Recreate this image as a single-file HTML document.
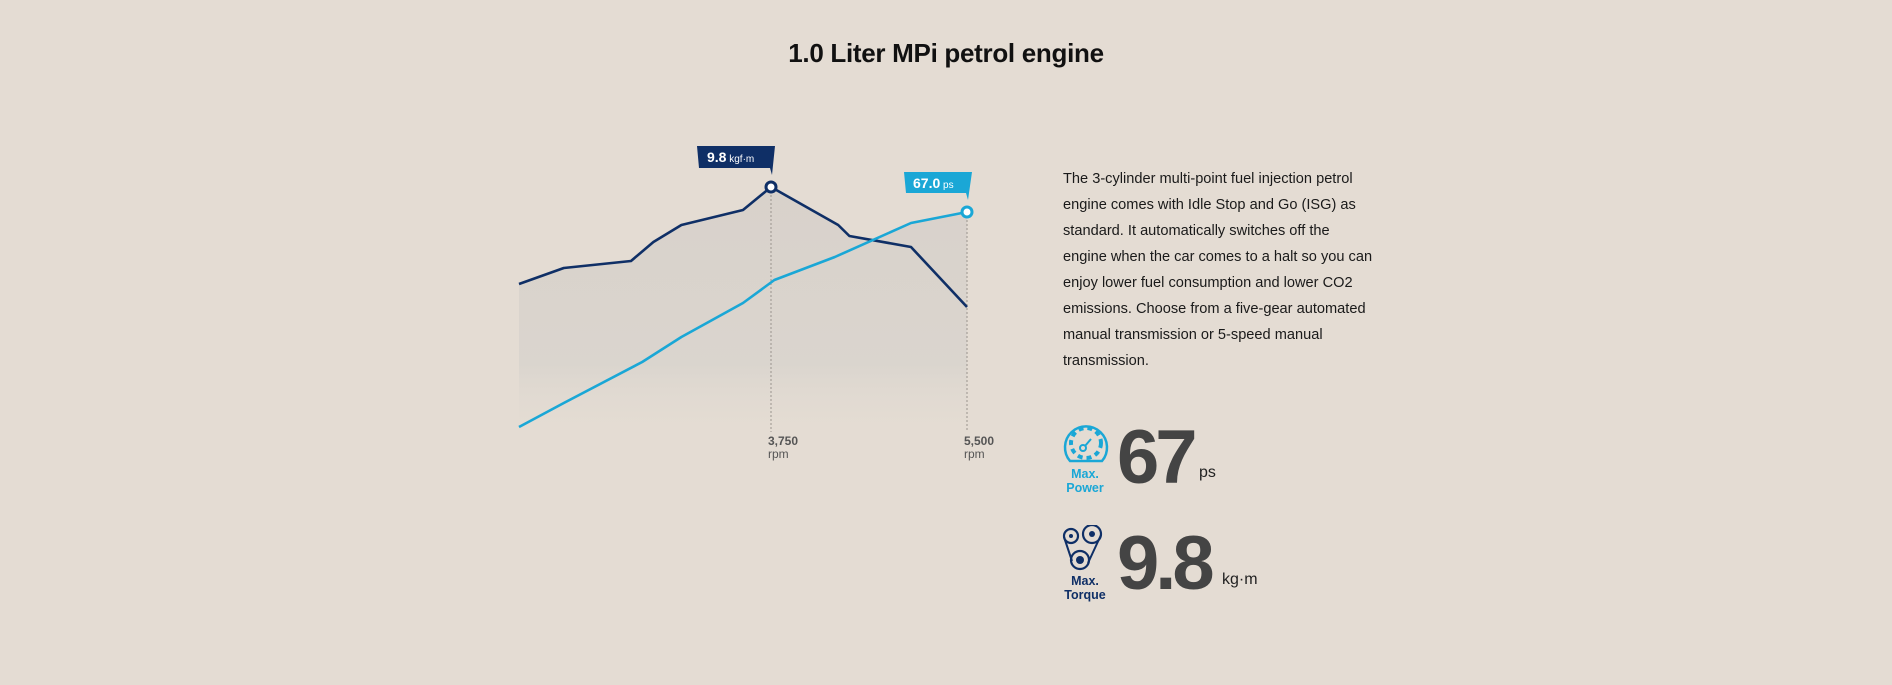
<!DOCTYPE html>
<html><head><meta charset="utf-8">
<style>
html,body{margin:0;padding:0;}
body{width:1892px;height:685px;background:#e4dcd3;position:relative;overflow:hidden;font-family:"Liberation Sans",sans-serif;}
.title{position:absolute;left:0;width:1892px;top:38px;text-align:center;font-size:26px;font-weight:bold;color:#111;letter-spacing:-0.3px;}
.desc{position:absolute;left:1063px;top:166px;width:400px;font-size:14.6px;line-height:26px;color:#1a1a1a;white-space:nowrap;}
.lbl{position:absolute;font-size:12.5px;font-weight:bold;text-align:center;width:50px;line-height:14px;}
.big{position:absolute;left:1117px;font-size:76px;font-weight:bold;color:#444;letter-spacing:-4px;line-height:1;}
.unit{position:absolute;font-size:16px;color:#222;}
</style></head><body>
<div class="title">1.0 Liter MPi petrol engine</div>

<svg id="chart" width="1892" height="685" style="position:absolute;left:0;top:0">
<defs>
<linearGradient id="fillg" x1="0" y1="0" x2="0" y2="1">
<stop offset="0" stop-color="#cfc9c4" stop-opacity="0.55"/>
<stop offset="0.7" stop-color="#d2cfca" stop-opacity="0.55"/>
<stop offset="1" stop-color="#e4dcd3" stop-opacity="0"/>
</linearGradient>
</defs>
</svg>

<div class="desc">The 3-cylinder multi-point fuel injection petrol<br>engine comes with Idle Stop and Go (ISG) as<br>standard. It automatically switches off the<br>engine when the car comes to a halt so you can<br>enjoy lower fuel consumption and lower CO2<br>emissions. Choose from a five-gear automated<br>manual transmission or 5-speed manual<br>transmission.</div>

<svg style="position:absolute;left:1062px;top:421px" width="48" height="44" viewBox="0 0 48 44">
<path d="M8 40 A21 21 0 1 1 40 40 Z" fill="none" stroke="#1aa7d6" stroke-width="2.5"/>
<circle cx="24" cy="22" r="15" fill="none" stroke="#1aa7d6" stroke-width="4" stroke-dasharray="5 4"/>
<circle cx="21" cy="27" r="3" fill="none" stroke="#1aa7d6" stroke-width="2"/>
<line x1="23" y1="25" x2="29" y2="18" stroke="#1aa7d6" stroke-width="2"/>
</svg>
<div class="lbl" style="left:1060px;top:467px;color:#1aa7d6">Max.<br>Power</div>
<div class="big" style="top:420px">67</div>
<div class="unit" style="left:1199px;top:464px">ps</div>

<svg style="position:absolute;left:1062px;top:525px" width="44" height="46" viewBox="0 0 44 46">
<circle cx="9" cy="11" r="7" fill="none" stroke="#0f2f66" stroke-width="2.2"/>
<circle cx="9" cy="11" r="2" fill="#0f2f66"/>
<circle cx="30" cy="9" r="9" fill="none" stroke="#0f2f66" stroke-width="2.2"/>
<circle cx="30" cy="9" r="3" fill="#0f2f66"/>
<circle cx="18" cy="35" r="9" fill="none" stroke="#0f2f66" stroke-width="2.2"/>
<circle cx="18" cy="35" r="4" fill="#0f2f66"/>
<path d="M2 12 L10 36 M39 10 L26 38" stroke="#0f2f66" stroke-width="2" fill="none"/>
</svg>
<div class="lbl" style="left:1060px;top:574px;color:#0f2f66">Max.<br>Torque</div>
<div class="big" style="top:526px">9.8</div>
<div class="unit" style="left:1222px;top:571px">kg·m</div>

<script>
const rpm = [1500,1900,2500,2700,2950,3500,3750,4350,4450,5000,5500];
const torque = [7.86,8.18,8.32,8.7,9.04,9.34,9.8,9.04,8.82,8.6,7.4];
const rpmP = [1500,1900,2600,2950,3500,3780,4320,5000,5500];
const power = [24,28.8,37,42,48.8,53.4,58,64.8,67];
const tickRpm = [3750,5500];
const tickLabels = ["3,750","5,500"];
const torqueLabel = "9.8";
const powerLabel = "67.0";

const NS="http://www.w3.org/2000/svg";
const svg=document.getElementById('chart');
const x=r=>771+(r-3750)*0.112;
const yT=v=>187+(9.8-v)*50;
const yP=v=>212+(67-v)*5;
function mk(t,a){const e=document.createElementNS(NS,t);for(const k in a)e.setAttribute(k,a[k]);svg.appendChild(e);return e;}

const tPts=rpm.map((r,i)=>[x(r),yT(torque[i])]);
const pPts=rpmP.map((r,i)=>[x(r),yP(power[i])]);
function interp(pts,xx){for(let i=0;i<pts.length-1;i++){const a=pts[i],b=pts[i+1];if(xx>=a[0]&&xx<=b[0]){return a[1]+(b[1]-a[1])*(xx-a[0])/(b[0]-a[0]);}}return pts[pts.length-1][1];}
let d='';
const x0=x(rpm[0]),x1=x(rpm[rpm.length-1]);
for(let xx=x0;xx<=x1;xx+=2){const yy=Math.min(interp(tPts,xx),interp(pPts,xx));d+=(d?'L':'M')+xx+' '+yy;}
d+='L'+x1+' '+Math.min(interp(tPts,x1),interp(pPts,x1))+'L'+x1+' 440L'+x0+' 440Z';
const area=mk('path',{d:d,fill:'url(#fillg)'});



tickRpm.forEach((r,i)=>{
  const topY=i===0?yT(9.8):yP(67);
  const l=mk('line',{x1:x(r),x2:x(r),y1:topY,y2:432,stroke:'#9a948e','stroke-width':1,'stroke-dasharray':'2 2'});
  
  
  const t=mk('text',{x:x(r)-3,y:445,'font-size':'12','font-weight':'bold',fill:'#555','font-family':'Liberation Sans, sans-serif'});
  t.textContent=tickLabels[i];
  
  
  const u=mk('text',{x:x(r)-3,y:458,'font-size':'12',fill:'#555','font-family':'Liberation Sans, sans-serif'});
  u.textContent='rpm';
  
  
});

const tl=mk('polyline',{points:tPts.map(p=>p.join(',')).join(' '),fill:'none',stroke:'#0f2f66','stroke-width':2.6,'stroke-linejoin':'round'});


const pl=mk('polyline',{points:pPts.map(p=>p.join(',')).join(' '),fill:'none',stroke:'#1aa7d6','stroke-width':2.6,'stroke-linejoin':'round'});



const ti=torque.indexOf(Math.max(...torque));
const tx=x(rpm[ti]),ty=yT(torque[ti]);
const tm=mk('circle',{cx:tx,cy:ty,r:5,fill:'#fff',stroke:'#0f2f66','stroke-width':3});


const tt=mk('path',{d:`M${tx-74} ${ty-41} L${tx+4} ${ty-41} L${tx+1} ${ty-12} L${tx-1} ${ty-19} L${tx-72} ${ty-19} Z`,fill:'#0f2f66'});


const ttx=mk('text',{x:tx-64,y:ty-25,fill:'#fff','font-size':'14','font-weight':'bold','font-family':'Liberation Sans, sans-serif'});
ttx.innerHTML=torqueLabel+'<tspan font-size="10" font-weight="normal"> kgf·m</tspan>';



const pi=power.length-1;
const px=x(rpmP[pi]),py=yP(power[pi]);
const pm=mk('circle',{cx:px,cy:py,r:5,fill:'#fff',stroke:'#1aa7d6','stroke-width':3});


const pt=mk('path',{d:`M${px-63} ${py-40} L${px+5} ${py-40} L${px+1} ${py-12} L${px-1} ${py-19} L${px-61} ${py-19} Z`,fill:'#1aa7d6'});


const ptx=mk('text',{x:px-54,y:py-24,fill:'#fff','font-size':'14','font-weight':'bold','font-family':'Liberation Sans, sans-serif'});
ptx.innerHTML=powerLabel+'<tspan font-size="10" font-weight="normal"> ps</tspan>';


</script>
</body></html>
